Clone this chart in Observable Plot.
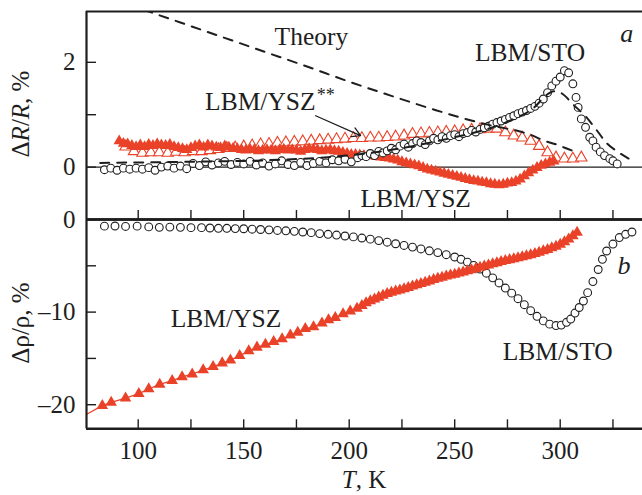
<!DOCTYPE html>
<html><head><meta charset="utf-8">
<script src="https://cdn.jsdelivr.net/npm/d3@7"></script>
<script src="https://cdn.jsdelivr.net/npm/@observablehq/plot@0.6"></script>
<style>
html,body{margin:0;padding:0;background:#fff;}
#chart{position:relative;width:642px;height:495px;overflow:hidden;background:#fff;}
#chart svg{position:absolute;left:0;overflow:visible;background:transparent;}
#chart svg, #chart svg text{font-family:"Liberation Serif","Times New Roman",serif !important;}
</style></head><body><div id="chart"></div>
<script>
// ---------- data (T in K, values in %) ----------
const xDomain = [75.5, 339];
const topDomain = [-1, 2.97];
const botDomain = [-22.6, 0];
const xTicks = [100,125,150,175,200,225,250,275,300,325];
const xTickLabels = [100,150,200,250,300];
const topYTicks = [0,1,2];
const topYLabels = [0,2];
const botYTicks = [0,-5,-10,-15,-20];
const botYLabels = [0,-10,-20];

// panel a: LBM/STO (open circles)
const lbmStoA = [[84,-0.05],[87,-0.02],[90,-0.06],[93,-0.02],[96,-0.04],[99,-0.02],[102,-0.04],[105,-0.01],[108,-0.06],[111,0.0],[114,0.02],[117,-0.02],[120,0.02],[123,-0.03],[126,0.07],[129,0.03],[132,0.1],[135,0.04],[138,0.08],[141,0.11],[144,0.05],[147,0.09],[150,0.06],[153,0.11],[156,0.04],[159,0.08],[162,0.02],[165,0.06],[168,0.12],[171,0.05],[174,0.03],[177,0.09],[180,0.03],[183,0.07],[186,0.11],[189,0.08],[192,0.14],[195,0.12],[198,0.15],[201,0.1],[204,0.18],[206,0.22],[208,0.2],[210,0.26],[212,0.22],[214,0.3],[216,0.27],[218,0.31],[220,0.36],[222,0.33],[224,0.4],[226,0.44],[228,0.38],[230,0.45],[232,0.5],[234,0.47],[236,0.43],[238,0.5],[240,0.55],[242,0.52],[244,0.58],[246,0.55],[248,0.6],[250,0.62],[252,0.58],[254,0.64],[256,0.66],[258,0.7],[260,0.67],[262,0.72],[264,0.75],[266,0.78],[268,0.82],[270,0.85],[272,0.88],[274,0.91],[276,0.95],[278,0.98],[280,1.02],[282,1.05],[284,1.08],[286,1.12],[288,1.16],[290,1.22],[292,1.3],[294,1.42],[296,1.55],[298,1.64],[300,1.72],[302,1.84],[304,1.8],[306,1.59],[307.5,1.33],[308.5,1.14],[310,0.92],[312,0.76],[314,0.57],[315.5,0.5],[317,0.38],[319,0.29],[321,0.22],[323.5,0.16],[325,0.12],[327,0.06]];
// panel a: LBM/YSZ (filled triangles)
const lbmYszA = [[91,0.5],[93,0.45],[95,0.44],[97,0.41],[99,0.39],[101,0.42],[103,0.39],[105,0.43],[107,0.41],[109,0.44],[111,0.42],[113,0.41],[115,0.43],[117,0.39],[119,0.37],[121,0.35],[123,0.33],[125,0.37],[127,0.4],[129,0.42],[131,0.38],[133,0.42],[135,0.4],[137,0.38],[139,0.37],[141,0.4],[143,0.38],[145,0.36],[147,0.35],[149,0.33],[151,0.32],[153,0.34],[155,0.33],[157,0.31],[159,0.32],[161,0.33],[163,0.32],[165,0.31],[167,0.33],[169,0.34],[171,0.32],[173,0.33],[175,0.32],[177,0.3],[179,0.33],[181,0.35],[183,0.34],[185,0.33],[187,0.31],[189,0.32],[191,0.33],[193,0.31],[195,0.3],[197,0.28],[199,0.26],[201,0.24],[203,0.24],[205,0.23],[207,0.22],[209,0.22],[211,0.21],[213,0.2],[215,0.19],[217,0.18],[219,0.17],[221,0.15],[223,0.13],[225,0.1],[227,0.08],[229,0.06],[231,0.04],[233,0.02],[235,-0.01],[237,-0.04],[239,-0.06],[241,-0.08],[243,-0.1],[245,-0.12],[247,-0.14],[249,-0.16],[251,-0.18],[253,-0.2],[255,-0.22],[257,-0.24],[259,-0.26],[261,-0.27],[263,-0.29],[265,-0.3],[267,-0.32],[269,-0.33],[271,-0.34],[273,-0.33],[275,-0.31],[277,-0.3],[279,-0.27],[281,-0.23],[283,-0.17],[285,-0.11],[287,-0.06],[289,-0.01],[291,0.03],[293,0.06],[295,0.09],[297,0.11]];
// panel a: LBM/YSZ** (open triangles)
const lbmYszStarA = [[94,0.39],[98,0.3],[102,0.27],[106,0.28],[110,0.28],[114,0.27],[118,0.29],[122,0.28],[126,0.3],[130,0.3],[134,0.32],[138,0.34],[142,0.36],[146,0.37],[150,0.39],[154,0.41],[158,0.43],[162,0.44],[166,0.46],[170,0.47],[174,0.48],[178,0.49],[182,0.5],[186,0.51],[190,0.52],[194,0.53],[198,0.54],[202,0.55],[206,0.55],[210,0.56],[214,0.56],[218,0.57],[222,0.58],[226,0.6],[230,0.63],[234,0.64],[238,0.65],[242,0.66],[246,0.67],[250,0.68],[254,0.7],[258,0.71],[262,0.72],[266,0.73],[270,0.73],[274,0.66],[278,0.6],[282,0.56],[286,0.5],[290,0.4],[294,0.28],[298,0.18],[302,0.16],[306,0.16],[310,0.18]];
// panel a: theory curves (dashed)
const theoryYsz = [[95,3.12],[105,2.97],[120,2.76],[140,2.48],[160,2.2],[180,1.92],[200,1.63],[220,1.36],[240,1.1],[255,0.92],[270,0.77],[280,0.69],[287,0.6],[292,0.51],[299,0.42],[304,0.34],[308,0.28]];
const theorySto = [[82,0.08],[120,0.1],[160,0.13],[190,0.19],[210,0.27],[230,0.4],[250,0.57],[265,0.72],[278,0.92],[288,1.15],[293,1.36],[297,1.45],[301,1.4],[306,1.2],[312,0.97],[317,0.72],[322,0.46],[327,0.3],[333,0.15]];

// panel b: LBM/STO (open circles)
const lbmStoB = [[84,-0.72],[89,-0.7],[94,-0.75],[99.5,-0.72],[105,-0.8],[110,-0.85],[115,-0.82],[120,-0.85],[125,-0.88],[130,-0.88],[134,-0.92],[138,-0.95],[142,-0.95],[146,-0.98],[150,-1.0],[154,-1.05],[158,-1.08],[162,-1.12],[166,-1.18],[170,-1.22],[174,-1.28],[178,-1.35],[182,-1.42],[186,-1.52],[190,-1.6],[194,-1.68],[198,-1.78],[202,-1.88],[206,-2.0],[210,-2.12],[214,-2.28],[218,-2.45],[222,-2.62],[226,-2.8],[230,-2.98],[234,-3.18],[238,-3.38],[242,-3.58],[246,-3.8],[250,-4.05],[253,-4.3],[256,-4.6],[259,-4.95],[262,-5.35],[265,-5.8],[268,-6.3],[271,-6.85],[274,-7.4],[277,-7.95],[280,-8.55],[283,-9.2],[286,-9.85],[289,-10.45],[292,-10.95],[295,-11.3],[298,-11.45],[300.5,-11.4],[303,-11.1],[305,-10.75],[307,-10.1],[309,-9.5],[311,-8.8],[313,-7.9],[315.5,-6.7],[318,-5.4],[320,-4.3],[322,-3.4],[325,-2.65],[328,-1.95],[331,-1.6],[334,-1.35]];
// panel b: LBM/YSZ (filled triangles)
const lbmYszB = [[83,-20.1],[87.2,-19.75],[94,-19.3],[100.3,-18.8],[105,-18.3],[110.2,-17.8],[116.1,-17.4],[120.8,-17.0],[125.6,-16.7],[130.8,-16.25],[135.5,-15.9],[139.8,-15.5],[143.7,-15.2],[148.1,-14.7],[152.4,-14.2],[156.3,-13.8],[160.3,-13.5],[164.2,-13.2],[168.2,-12.9],[172.1,-12.5],[175.6,-12.2],[179.2,-11.8],[183.1,-11.6],[187.1,-11.2],[190.2,-10.85],[193.4,-10.6],[197.1,-10.2],[200.5,-9.9],[203.7,-9.6],[206,-9.3],[208,-9.0],[210,-8.8],[212,-8.6],[214,-8.4],[216,-8.2],[218,-8.0],[220,-7.88],[222,-7.75],[224,-7.62],[226,-7.5],[228,-7.35],[230,-7.2],[232,-7.06],[234,-6.93],[236,-6.8],[238,-6.65],[240,-6.5],[242,-6.37],[244,-6.25],[246,-6.12],[248,-6.02],[250,-5.92],[252,-5.8],[254,-5.68],[256,-5.56],[258,-5.44],[260,-5.3],[262,-5.17],[264,-5.04],[266,-4.92],[268,-4.8],[270,-4.68],[272,-4.56],[274,-4.45],[276,-4.35],[278,-4.25],[280,-4.15],[282,-4.04],[284,-3.93],[286,-3.82],[288,-3.7],[290,-3.55],[292,-3.4],[294,-3.25],[296,-3.08],[298,-2.9],[300,-2.68],[302,-2.42],[304,-2.12],[306,-1.78],[308,-1.4]];
const lbmYszBLineStart = [[75.8,-21.0]];

// annotations
const labelsA = [["Theory",182.1,2.49],["LBM/STO",285.7,2.19],["LBM/YSZ",157.9,1.24],["LBM/YSZ",231.5,-0.61]];
const starA = [["**",184.6,1.37]];
const panelA = [["a",331.5,2.54]];
const arrowA = [[184.1,0.98,205.4,0.6]];
const labelsB = [["LBM/YSZ",141.6,-10.76],["LBM/STO",298.8,-14.28]];
const panelB = [["b",330.2,-4.95]];

// ---------- drawing ----------
const RED = "#ea4228";
const INK = "#1e1e1e";
const FONT = "'Liberation Serif', 'Times New Roman', serif";
const fmtMinus = d => d < 0 ? "\u2013" + (-d) : String(d);
const X = d => d[0], Y = d => d[1];

const topPlot = Plot.plot({
  width: 642, height: 222,
  marginTop: 11, marginBottom: 3, marginLeft: 86, marginRight: 0,
  style: {fontFamily: FONT, fontSize: "25px", color: INK, background: "transparent", overflow: "visible"},
  x: {domain: xDomain},
  y: {domain: topDomain},
  marks: [
    Plot.ruleY([0], {stroke: INK, strokeWidth: 1.3}),
    Plot.dot(lbmYszStarA, {x: X, y: Y, symbol: "triangle", r: 4.2, stroke: RED, fill: "white", strokeWidth: 1.1}),
    Plot.dot(lbmYszA, {x: X, y: Y, symbol: "triangle", r: 4.2, fill: RED, stroke: "none"}),
    Plot.dot(lbmStoA, {x: X, y: Y, r: 3.9, stroke: INK, fill: "white", strokeWidth: 1.1}),
    Plot.line(theoryYsz, {x: X, y: Y, stroke: INK, strokeWidth: 2, strokeDasharray: "9,8", curve: "monotone-x", clip: true}),
    Plot.line(theorySto, {x: X, y: Y, stroke: INK, strokeWidth: 2, strokeDasharray: "9,8", curve: "monotone-x", clip: true}),
    Plot.arrow(arrowA, {x1: d => d[0], y1: d => d[1], x2: d => d[2], y2: d => d[3], stroke: INK, strokeWidth: 1.3, headLength: 11}),
    Plot.text(labelsA, {x: d => d[1], y: d => d[2], text: d => d[0], fill: INK, fontSize: 25.5, fontFamily: FONT}),
    Plot.text(starA, {x: d => d[1], y: d => d[2], text: d => d[0], fill: INK, fontSize: 18, textAnchor: "start", fontFamily: FONT}),
    Plot.text(panelA, {x: d => d[1], y: d => d[2], text: d => d[0], fill: INK, fontSize: 26, fontStyle: "italic", fontFamily: FONT}),
    Plot.axisX({ticks: xTicks, tickSize: -9, tickFormat: () => "", label: null, stroke: INK, strokeWidth: 1.4}),
    Plot.axisY({ticks: topYTicks, tickSize: -10, tickFormat: () => "", label: null, stroke: INK, strokeWidth: 1.4}),
    Plot.axisY({ticks: topYLabels, tickSize: 0, tickPadding: 11, tickFormat: fmtMinus, label: null, fill: INK, fontFamily: FONT}),
    Plot.ruleX([xDomain[0]], {stroke: INK, strokeWidth: 2.2}),
    Plot.ruleY([topDomain[1]], {stroke: INK, strokeWidth: 2.2}),
    Plot.ruleY([topDomain[0]], {stroke: INK, strokeWidth: 2.4})
  ]
});

const botPlot = Plot.plot({
  width: 642, height: 276,
  marginTop: 0, marginBottom: 66.7, marginLeft: 86, marginRight: 0,
  style: {fontFamily: FONT, fontSize: "25px", color: INK, background: "transparent", overflow: "visible"},
  x: {domain: xDomain},
  y: {domain: botDomain},
  marks: [
    Plot.line(lbmYszBLineStart.concat(lbmYszB), {x: X, y: Y, stroke: RED, strokeWidth: 1.3}),
    Plot.dot(lbmStoB, {x: X, y: Y, r: 3.9, stroke: INK, fill: "white", strokeWidth: 1.1}),
    Plot.dot(lbmYszB, {x: X, y: Y, symbol: "triangle", r: 4.3, fill: RED, stroke: "none"}),
    Plot.text(labelsB, {x: d => d[1], y: d => d[2], text: d => d[0], fill: INK, fontSize: 25.5, fontFamily: FONT}),
    Plot.text(panelB, {x: d => d[1], y: d => d[2], text: d => d[0], fill: INK, fontSize: 26, fontStyle: "italic", fontFamily: FONT}),
    Plot.axisX({ticks: xTicks, tickSize: -9, tickFormat: () => "", label: null, stroke: INK, strokeWidth: 1.4}),
    Plot.axisX({ticks: xTickLabels, tickSize: 0, tickPadding: 12, label: null, fill: INK, fontFamily: FONT}),
    Plot.axisY({ticks: botYTicks, tickSize: -10, tickFormat: () => "", label: null, stroke: INK, strokeWidth: 1.4}),
    Plot.axisY({ticks: botYLabels, tickSize: 0, tickPadding: 11, tickFormat: fmtMinus, label: null, fill: INK, fontFamily: FONT}),
    Plot.ruleX([xDomain[0]], {stroke: INK, strokeWidth: 2.2}),
    Plot.ruleY([botDomain[1]], {stroke: INK, strokeWidth: 2.4}),
    Plot.ruleY([botDomain[0]], {stroke: INK, strokeWidth: 2.4})
  ]
});

const chart = document.getElementById("chart");
topPlot.style.top = "0px";
botPlot.style.top = "219px";
chart.appendChild(topPlot);
chart.appendChild(botPlot);

// axis titles with italic parts
function richText(svg, x, y, parts, rotate) {
  const t = d3.select(svg).append("text")
    .attr("transform", `translate(${x},${y})` + (rotate ? " rotate(-90)" : ""))
    .attr("text-anchor", "middle")
    .attr("font-family", FONT).attr("font-size", 25).attr("fill", INK);
  parts.forEach(([s, it]) => t.append("tspan").attr("font-style", it ? "italic" : "normal").text(s));
}
richText(topPlot, 29, 114, [["\u0394", false], ["R", true], ["/", false], ["R", true], [", %", false]], true);
richText(botPlot, 29, 104, [["\u0394\u03c1/\u03c1, %", false]], true);
richText(botPlot, 364, 269.3, [["T", true], [", K", false]], false);
</script></body></html>
